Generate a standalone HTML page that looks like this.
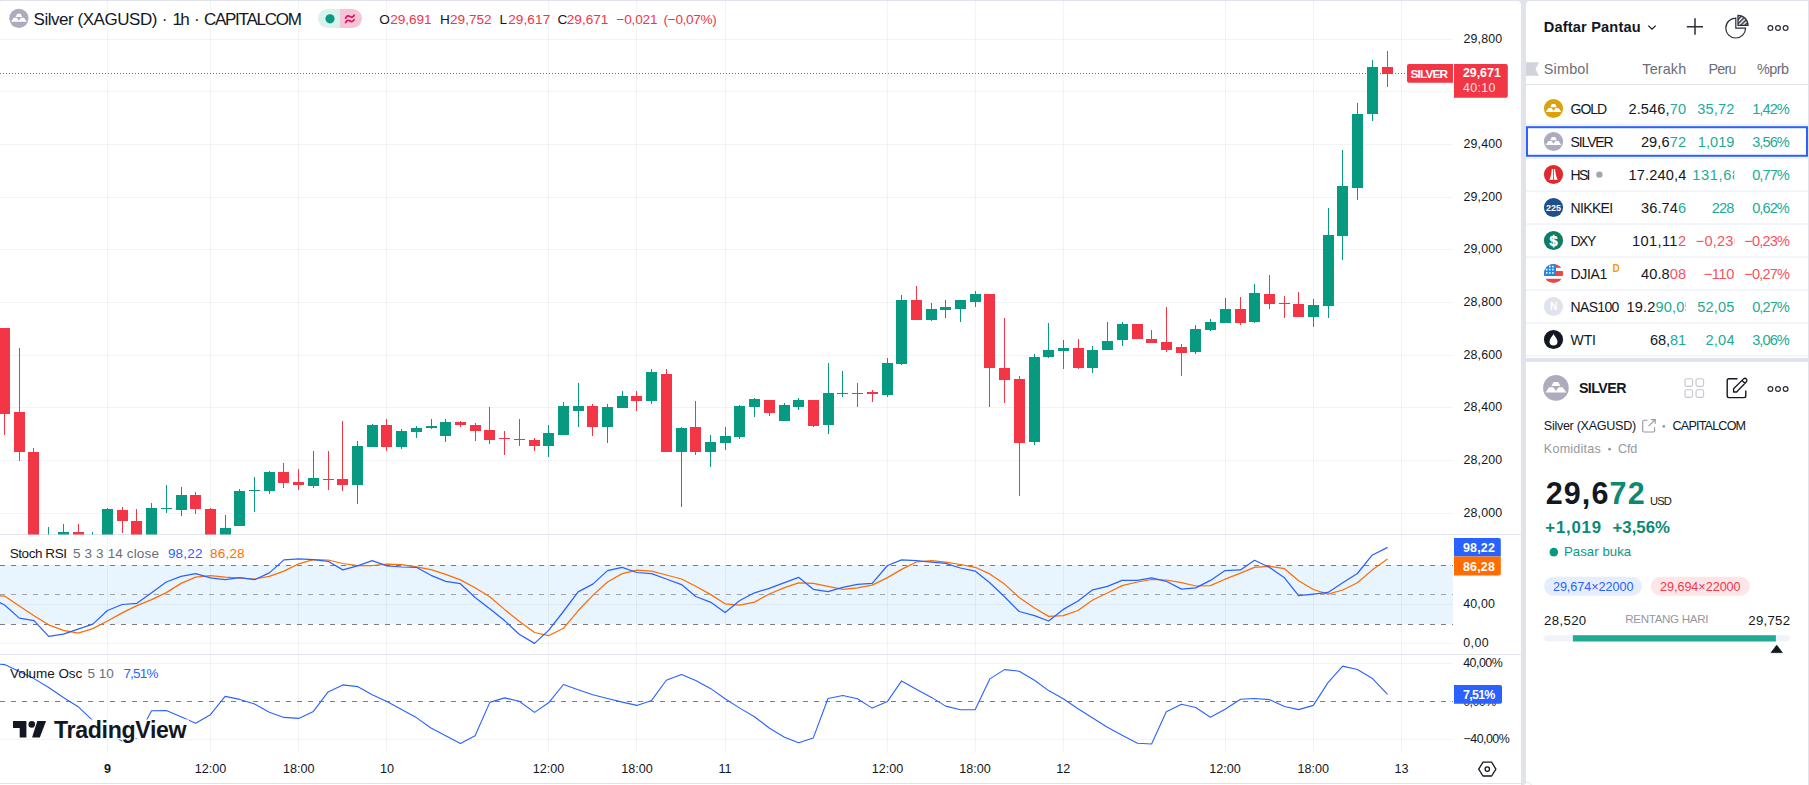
<!DOCTYPE html>
<html><head><meta charset="utf-8"><title>Silver (XAGUSD) 1h CAPITALCOM</title>
<style>html,body{margin:0;padding:0;width:1809px;height:785px;overflow:hidden;background:#e0e3eb}
svg text{font-family:'Liberation Sans',Arial,sans-serif}</style></head>
<body>
<svg width="1809" height="785" viewBox="0 0 1809 785" style="position:absolute;left:0;top:0;font-family:'Liberation Sans', Arial, sans-serif">
<defs><clipPath id="cpMain"><rect x="0" y="1" width="1453" height="533.4"/></clipPath><clipPath id="cpStoch"><rect x="0" y="535" width="1453" height="119"/></clipPath><clipPath id="cpVol"><rect x="0" y="655" width="1453" height="98"/></clipPath></defs>
<rect x="0" y="0" width="1809" height="785" fill="#e0e3eb"/>
<path d="M0 2.5 Q0 1 1.5 1 H1517 Q1521 1 1521 5 V785 H0 Z" fill="#fff"/>
<path d="M1526 5 Q1526 1 1530 1 H1808 V358 H1526 Z" fill="#fff"/>
<path d="M1526 362 H1808 V785 H1526 Z" fill="#fff"/>
<path d="M0 39.5H1453 M0 91.5H1453 M0 144.5H1453 M0 197.5H1453 M0 249.5H1453 M0 302.5H1453 M0 355.5H1453 M0 407.5H1453 M0 460.5H1453 M0 513.5H1453 M0 604.5H1453 M0 643.5H1453 M0 663.5H1453 M0 739.5H1453" stroke="rgba(42,46,57,0.06)" stroke-width="1" fill="none" shape-rendering="crispEdges"/>
<path d="M107.5 1V753 M210.5 1V753 M298.5 1V753 M386.5 1V753 M548.5 1V753 M636.5 1V753 M725.5 1V753 M887.5 1V753 M975.5 1V753 M1063.5 1V753 M1225.5 1V753 M1313.5 1V753 M1401.5 1V753" stroke="rgba(42,46,57,0.06)" stroke-width="1" fill="none" shape-rendering="crispEdges"/>
<rect x="0" y="565" width="1453" height="59" fill="rgba(33,150,243,0.1)"/>
<path d="M0 534.5H1521 M0 654.5H1521 M0 783.5H1521" stroke="#e0e3eb" stroke-width="1" shape-rendering="crispEdges"/>
<g clip-path="url(#cpMain)" shape-rendering="crispEdges">
<path d="M43 536h11v24h-11zM48 527h1v43h-1zM58 532h11v28h-11zM63 524h1v46h-1zM87 536h11v24h-11zM92 532h1v38h-1zM102 509h11v51h-11zM107 508h1v62h-1zM146 508h11v52h-11zM151 503h1v67h-1zM161 508h11v1h-11zM166 485h1v28h-1zM176 495h11v15h-11zM181 487h1v29h-1zM220 528h11v32h-11zM225 515h1v55h-1zM234 491h11v35h-11zM239 489h1v37h-1zM249 490h11v1h-11zM254 477h1v35h-1zM264 472h11v19h-11zM269 471h1v23h-1zM308 478h11v8h-11zM313 451h1v37h-1zM352 446h11v39h-11zM357 441h1v63h-1zM367 425h11v22h-11zM372 424h1v23h-1zM396 431h11v16h-11zM401 429h1v20h-1zM411 428h11v4h-11zM416 426h1v12h-1zM426 426h11v2h-11zM431 419h1v10h-1zM440 422h11v14h-11zM445 419h1v23h-1zM543 433h11v13h-11zM548 425h1v32h-1zM558 406h11v29h-11zM563 402h1v33h-1zM573 406h11v5h-11zM578 383h1v44h-1zM602 407h11v20h-11zM607 404h1v39h-1zM617 396h11v12h-11zM622 391h1v17h-1zM646 372h11v29h-11zM651 369h1v35h-1zM676 428h11v24h-11zM681 427h1v80h-1zM705 442h11v10h-11zM710 435h1v32h-1zM720 436h11v7h-11zM725 427h1v23h-1zM734 406h11v31h-11zM739 405h1v34h-1zM749 399h11v8h-11zM754 398h1v19h-1zM779 405h11v16h-11zM784 403h1v18h-1zM793 400h11v7h-11zM798 398h1v12h-1zM823 393h11v32h-11zM828 363h1v71h-1zM837 393h11v1h-11zM842 371h1v26h-1zM882 363h11v32h-11zM887 358h1v39h-1zM896 300h11v64h-11zM901 295h1v70h-1zM926 309h11v11h-11zM931 303h1v18h-1zM940 307h11v3h-11zM945 300h1v18h-1zM955 300h11v9h-11zM960 300h1v22h-1zM970 294h11v8h-11zM975 291h1v16h-1zM1029 357h11v85h-11zM1034 354h1v91h-1zM1043 350h11v7h-11zM1048 323h1v35h-1zM1058 348h11v3h-11zM1063 340h1v29h-1zM1087 350h11v18h-11zM1092 346h1v27h-1zM1102 341h11v9h-11zM1107 322h1v28h-1zM1117 324h11v16h-11zM1122 322h1v24h-1zM1190 329h11v23h-11zM1195 325h1v29h-1zM1205 322h11v8h-11zM1210 319h1v12h-1zM1220 309h11v14h-11zM1225 298h1v25h-1zM1249 293h11v29h-11zM1254 284h1v39h-1zM1308 305h11v12h-11zM1313 299h1v28h-1zM1323 235h11v71h-11zM1328 208h1v110h-1zM1337 186h11v50h-11zM1342 150h1v110h-1zM1352 114h11v74h-11zM1357 103h1v97h-1zM1367 67h11v47h-11zM1372 60h1v61h-1z" fill="#089981"/>
<path d="M-1 328h11v86h-11zM4 328h1v107h-1zM14 412h11v40h-11zM19 348h1v113h-1zM28 452h11v108h-11zM33 448h1v122h-1zM73 532h11v28h-11zM78 524h1v46h-1zM117 510h11v11h-11zM122 507h1v26h-1zM131 521h11v39h-11zM136 509h1v61h-1zM190 495h11v14h-11zM195 492h1v22h-1zM205 509h11v51h-11zM210 508h1v62h-1zM278 472h11v11h-11zM283 463h1v25h-1zM293 482h11v3h-11zM298 469h1v21h-1zM323 479h11v1h-11zM328 451h1v39h-1zM337 479h11v6h-11zM342 421h1v70h-1zM381 425h11v22h-11zM386 419h1v32h-1zM455 422h11v3h-11zM460 421h1v6h-1zM470 425h11v6h-11zM475 423h1v18h-1zM484 430h11v10h-11zM489 407h1v37h-1zM499 438h11v1h-11zM504 431h1v24h-1zM514 439h11v1h-11zM519 419h1v27h-1zM529 440h11v6h-11zM534 438h1v13h-1zM587 406h11v21h-11zM592 404h1v32h-1zM631 396h11v5h-11zM636 391h1v20h-1zM661 374h11v78h-11zM666 369h1v83h-1zM690 427h11v25h-11zM695 401h1v54h-1zM764 400h11v13h-11zM769 400h1v16h-1zM808 400h11v26h-11zM813 400h1v27h-1zM852 393h11v1h-11zM857 383h1v24h-1zM867 392h11v2h-11zM872 390h1v12h-1zM911 300h11v20h-11zM916 286h1v34h-1zM984 294h11v74h-11zM989 294h1v113h-1zM999 368h11v12h-11zM1004 318h1v85h-1zM1014 379h11v64h-11zM1019 376h1v120h-1zM1073 348h11v20h-11zM1078 339h1v30h-1zM1132 324h11v15h-11zM1137 324h1v15h-1zM1146 339h11v4h-11zM1151 330h1v13h-1zM1161 342h11v8h-11zM1166 307h1v45h-1zM1176 347h11v6h-11zM1181 344h1v32h-1zM1235 309h11v14h-11zM1240 297h1v28h-1zM1264 294h11v10h-11zM1269 275h1v34h-1zM1279 303h11v1h-11zM1284 296h1v22h-1zM1293 304h11v13h-11zM1298 292h1v25h-1zM1382 67h11v7h-11zM1387 51h1v36h-1z" fill="#f23645"/>
</g>
<path d="M0 73.5H1453" stroke="#f23645" stroke-width="1" stroke-dasharray="1 2" shape-rendering="crispEdges"/>
<path d="M0 565.5H1453 M0 624.5H1453" stroke="#787b86" stroke-width="1" stroke-dasharray="5 6" shape-rendering="crispEdges"/>
<path d="M0 594.5H1453" stroke="#a0a3ac" stroke-width="1" stroke-dasharray="5 6" shape-rendering="crispEdges"/>
<polyline clip-path="url(#cpStoch)" points="-10.1,595.5 4.6,596.1 19.3,605.9 34.0,615.7 48.7,624.8 63.4,630.4 78.1,633.2 92.8,628.6 107.5,621.0 122.2,612.9 136.9,605.6 151.6,599.6 166.3,592.6 181.0,583.4 195.7,577.1 210.4,575.7 225.1,577.1 239.8,578.1 254.6,579.0 269.3,576.4 284.0,571.1 298.7,563.8 313.4,559.6 328.1,560.0 342.8,563.5 357.5,565.6 372.2,565.5 386.9,564.1 401.6,564.7 416.3,566.8 431.0,569.7 445.7,574.3 460.4,579.9 475.1,587.7 489.8,596.8 504.5,609.4 519.2,621.3 534.5,632.5 548.6,635.7 563.4,628.3 578.1,610.8 592.8,595.4 607.5,582.0 622.2,573.6 636.9,570.1 651.6,571.1 666.3,575.0 681.5,579.0 695.7,586.3 710.4,594.4 725.1,603.8 739.8,605.2 754.5,602.1 769.2,594.0 784.5,587.7 798.6,582.9 813.3,583.4 828.0,586.3 842.8,589.3 857.5,587.9 872.2,585.1 887.5,577.6 901.6,569.4 916.3,562.0 931.5,560.7 945.7,562.1 960.4,564.5 975.1,567.3 989.8,573.9 1004.5,584.1 1019.2,597.5 1034.5,608.0 1048.6,616.4 1063.3,615.7 1078.0,610.5 1092.7,600.0 1107.4,593.0 1122.1,585.6 1137.5,582.0 1151.6,579.5 1166.3,580.0 1181.5,582.7 1195.7,586.0 1210.4,585.6 1225.1,579.2 1240.5,573.2 1254.5,567.3 1269.2,566.3 1284.5,568.7 1298.6,580.8 1313.3,589.5 1328.0,594.1 1342.7,590.0 1357.4,582.8 1372.1,570.1 1387.5,559.0" fill="none" stroke="#ff6d00" stroke-width="1.25" stroke-linejoin="round"/>
<polyline clip-path="url(#cpStoch)" points="-10.1,598.0 4.6,605.0 19.3,618.1 34.0,620.6 48.7,636.4 63.4,634.2 78.1,629.1 92.8,624.1 107.5,610.5 122.2,604.5 136.9,603.3 151.6,592.8 166.3,582.0 181.0,576.4 195.7,573.6 210.4,577.8 225.1,579.7 239.8,577.6 254.6,579.7 269.3,572.9 284.0,559.9 298.7,558.9 313.4,559.6 328.1,561.3 342.8,569.9 357.5,565.9 372.2,560.7 386.9,565.9 401.6,567.0 416.3,567.3 431.0,575.3 445.7,581.3 460.4,583.7 475.1,597.5 489.8,608.7 504.5,620.6 519.2,634.2 534.5,643.4 548.6,630.4 563.4,611.5 578.1,591.9 592.8,584.1 607.5,570.6 622.2,567.3 636.9,572.5 651.6,573.6 666.3,579.0 681.5,584.6 695.7,596.5 710.4,602.1 725.1,612.5 739.8,600.5 754.5,592.8 769.2,588.4 784.5,582.7 798.6,577.3 813.3,589.3 828.0,591.6 842.8,587.4 857.5,584.3 872.2,583.4 887.5,565.5 901.6,559.9 916.3,560.7 931.5,562.1 945.7,563.4 960.4,568.0 975.1,571.1 989.8,582.7 1004.5,596.8 1019.2,611.5 1034.5,615.7 1048.6,621.0 1063.3,609.4 1078.0,601.0 1092.7,589.8 1107.4,586.3 1122.1,580.4 1137.5,580.4 1151.6,577.8 1166.3,581.3 1181.5,589.1 1195.7,587.9 1210.4,580.4 1225.1,570.6 1240.5,569.9 1254.5,560.3 1269.2,567.3 1284.5,577.8 1298.6,595.7 1313.3,594.1 1328.0,592.4 1342.7,582.8 1357.4,573.5 1372.1,555.2 1387.5,547.4" fill="none" stroke="#2962ff" stroke-width="1.25" stroke-linejoin="round"/>
<path d="M0 701.5H1453" stroke="#787b86" stroke-width="1" stroke-dasharray="5 6" shape-rendering="crispEdges"/>
<polyline clip-path="url(#cpVol)" points="-10.1,663.5 4.6,664.6 19.3,671.6 34.0,678.6 48.7,687.5 63.4,697.5 78.1,706.7 92.8,720.7 107.5,733.0 122.2,741.0 136.9,738.0 151.6,710.7 166.3,710.5 181.0,716.7 195.7,723.3 210.4,714.7 225.1,696.4 239.8,699.4 254.6,704.1 269.3,712.3 284.0,717.4 298.7,718.4 313.4,711.4 328.1,691.9 342.8,684.9 357.5,686.6 372.2,694.8 386.9,701.4 401.6,709.4 416.3,717.6 431.0,728.0 445.7,735.7 460.4,743.6 475.1,735.7 489.8,702.4 504.5,697.9 519.2,701.2 534.5,712.4 548.6,702.8 563.4,684.5 578.1,689.8 592.8,694.8 607.5,698.5 622.2,702.1 636.9,705.4 651.6,700.4 666.3,680.2 681.5,674.6 695.7,680.6 710.4,688.4 725.1,698.8 739.8,708.1 754.5,716.7 769.2,728.0 784.5,737.3 798.6,742.8 813.3,737.9 828.0,698.5 842.8,695.5 857.5,698.8 872.2,708.1 887.5,701.4 901.6,680.9 916.3,689.2 931.5,697.4 945.7,706.1 960.4,709.8 975.1,709.8 989.8,678.9 1004.5,669.6 1019.2,671.2 1034.5,680.2 1048.6,690.6 1063.3,698.8 1078.0,708.7 1092.7,718.0 1107.4,727.3 1122.1,735.3 1137.5,743.2 1151.6,744.0 1166.3,711.7 1181.5,704.3 1195.7,707.5 1210.4,717.2 1225.1,709.3 1240.5,699.2 1254.5,698.5 1269.2,699.6 1284.5,706.5 1298.6,709.6 1313.3,705.4 1328.0,682.6 1342.7,666.1 1357.4,669.5 1372.1,678.2 1387.5,694.4" fill="none" stroke="#2962ff" stroke-width="1.1" stroke-linejoin="round"/>
<g transform="translate(18.9,18.35) scale(1.0105263157894737)"><circle r="9.5" fill="#aeabbe"/><path d="M-1.7 -4.45 H1.7 L3.3 -1.35 H-3.3 Z M-5 -0.55 H-2 L0 2.3 L2 -0.55 H5 L7.8 3.45 H-7.8 Z" fill="#fff"/></g>
<text x="33.6" y="24.6" font-size="17" fill="#131722" textLength="123.8" lengthAdjust="spacing">Silver (XAGUSD)</text>
<text x="164.7" y="24.6" font-size="17" fill="#131722" text-anchor="middle">·</text>
<text x="172.5" y="24.6" font-size="17" fill="#131722" textLength="17.2" lengthAdjust="spacing">1h</text>
<text x="196.8" y="24.6" font-size="17" fill="#131722" text-anchor="middle">·</text>
<text x="203.9" y="24.6" font-size="17" fill="#131722" textLength="97.9" lengthAdjust="spacing">CAPITALCOM</text>
<path d="M327.5 9 H340 V28 H327.5 A9.5 9.5 0 0 1 327.5 9 Z" fill="#daf1ec"/>
<path d="M340 9 H352.5 A9.5 9.5 0 0 1 352.5 28 H340 Z" fill="#f5c4d6"/>
<circle cx="330" cy="18.8" r="4.6" fill="#089981"/>
<path d="M345.6 18.2 C347 15.2 348.8 15.6 350 16.6 C351.2 17.6 352.8 17.4 354.2 15.2 M345.6 22.6 C347 19.6 348.8 20 350 21 C351.2 22 352.8 21.8 354.2 19.6" fill="none" stroke="#e0115f" stroke-width="1.7" stroke-linecap="round"/>
<text x="379.3" y="23.9" font-size="13.6" fill="#131722" textLength="8.6" lengthAdjust="spacing">O</text>
<text x="390.3" y="23.9" font-size="13.6" fill="#f23645" textLength="41.2" lengthAdjust="spacing">29,691</text>
<text x="439.9" y="23.9" font-size="13.6" fill="#131722" textLength="9" lengthAdjust="spacing">H</text>
<text x="450" y="23.9" font-size="13.6" fill="#f23645" textLength="41.6" lengthAdjust="spacing">29,752</text>
<text x="499.4" y="23.9" font-size="13.6" fill="#131722" textLength="7.5" lengthAdjust="spacing">L</text>
<text x="508.2" y="23.9" font-size="13.6" fill="#f23645" textLength="42" lengthAdjust="spacing">29,617</text>
<text x="557.5" y="23.9" font-size="13.6" fill="#131722" textLength="8.3" lengthAdjust="spacing">C</text>
<text x="566.8" y="23.9" font-size="13.6" fill="#f23645" textLength="41.6" lengthAdjust="spacing">29,671</text>
<text x="616.5" y="23.9" font-size="13.6" fill="#f23645" textLength="41" lengthAdjust="spacing">−0,021</text>
<text x="663.6" y="23.9" font-size="13.6" fill="#f23645" textLength="53.1" lengthAdjust="spacing">(−0,07%)</text>
<text x="9.7" y="558" font-size="13.5" fill="#131722" textLength="57.3" lengthAdjust="spacing">Stoch RSI</text>
<text x="73" y="558" font-size="13.5" fill="#6a6d78" textLength="85.9" lengthAdjust="spacing">5 3 3 14 close</text>
<text x="167.9" y="558" font-size="13.5" fill="#2962ff" textLength="34.6" lengthAdjust="spacing">98,22</text>
<text x="210" y="558" font-size="13.5" fill="#ff6d00" textLength="34.6" lengthAdjust="spacing">86,28</text>
<text x="10" y="677.8" font-size="13.5" fill="#131722" textLength="72.3" lengthAdjust="spacing">Volume Osc</text>
<text x="87.6" y="677.8" font-size="13.5" fill="#6a6d78" textLength="26.2" lengthAdjust="spacing">5 10</text>
<text x="123.4" y="677.8" font-size="13.5" fill="#2962ff" textLength="35.1" lengthAdjust="spacing">7,51%</text>
<text x="1463.4" y="42.8" font-size="12.4" fill="#131722" textLength="38.8" lengthAdjust="spacing">29,800</text>
<text x="1463.4" y="147.8" font-size="12.4" fill="#131722" textLength="38.8" lengthAdjust="spacing">29,400</text>
<text x="1463.4" y="200.8" font-size="12.4" fill="#131722" textLength="38.8" lengthAdjust="spacing">29,200</text>
<text x="1463.4" y="252.8" font-size="12.4" fill="#131722" textLength="38.8" lengthAdjust="spacing">29,000</text>
<text x="1463.4" y="305.8" font-size="12.4" fill="#131722" textLength="38.8" lengthAdjust="spacing">28,800</text>
<text x="1463.4" y="358.8" font-size="12.4" fill="#131722" textLength="38.8" lengthAdjust="spacing">28,600</text>
<text x="1463.4" y="410.8" font-size="12.4" fill="#131722" textLength="38.8" lengthAdjust="spacing">28,400</text>
<text x="1463.4" y="463.8" font-size="12.4" fill="#131722" textLength="38.8" lengthAdjust="spacing">28,200</text>
<text x="1463.4" y="516.8" font-size="12.4" fill="#131722" textLength="38.8" lengthAdjust="spacing">28,000</text>
<path d="M1409 64 H1453 V82.8 H1409 Q1407 82.8 1407 80.8 V66 Q1407 64 1409 64 Z" fill="#f23645"/>
<text x="1410.5" y="77.8" font-size="11.8" fill="#fff" font-weight="bold" textLength="37.5" lengthAdjust="spacing">SILVER</text>
<path d="M1454 64 H1505.8 Q1507.8 64 1507.8 66 V95.7 Q1507.8 97.7 1505.8 97.7 H1454 Z" fill="#f23645"/>
<text x="1462.9" y="76.9" font-size="12.4" fill="#fff" font-weight="bold" textLength="37.9" lengthAdjust="spacing">29,671</text>
<text x="1462.9" y="91.8" font-size="12.4" fill="#fde3e5" textLength="32.5" lengthAdjust="spacing">40:10</text>
<path d="M1454 538 H1498.8 Q1500.8 538 1500.8 540 V556.5 H1454 Z" fill="#2962ff"/>
<path d="M1454 556.5 H1500.8 V573.6 Q1500.8 575.6 1498.8 575.6 H1454 Z" fill="#ff6d00"/>
<text x="1462.9" y="551.6" font-size="12.4" fill="#fff" font-weight="bold" textLength="32" lengthAdjust="spacing">98,22</text>
<text x="1462.9" y="570.6" font-size="12.4" fill="#fff" font-weight="bold" textLength="32" lengthAdjust="spacing">86,28</text>
<text x="1463.2" y="608.2" font-size="12.4" fill="#131722" textLength="31.8" lengthAdjust="spacing">40,00</text>
<text x="1463.2" y="647.1" font-size="12.4" fill="#131722" textLength="25.4" lengthAdjust="spacing">0,00</text>
<text x="1463.2" y="667.3" font-size="12.4" fill="#131722" textLength="39.6" lengthAdjust="spacing">40,00%</text>
<text x="1463.2" y="706" font-size="12.4" fill="#131722" textLength="33" lengthAdjust="spacing">0,00%</text>
<path d="M1454 684.9 H1500 Q1502 684.9 1502 686.9 V701.7 Q1502 703.7 1500 703.7 H1454 Z" fill="#2962ff"/>
<text x="1462.9" y="698.6" font-size="12.4" fill="#fff" font-weight="bold" textLength="32.5" lengthAdjust="spacing">7,51%</text>
<text x="1463.6" y="743.4" font-size="12.4" fill="#131722" textLength="46.1" lengthAdjust="spacing">−40,00%</text>
<path d="M1483 762.2 H1491.6 L1495.9 769.1 L1491.6 776 H1483 L1478.7 769.1 Z" fill="none" stroke="#131722" stroke-width="1.3" stroke-linejoin="round"/>
<circle cx="1487.3" cy="769.1" r="2.2" fill="none" stroke="#131722" stroke-width="1.3"/>
<text x="107.5" y="773" font-size="12.6" fill="#131722" font-weight="bold" text-anchor="middle">9</text>
<text x="210.4" y="773" font-size="12.6" fill="#131722" text-anchor="middle">12:00</text>
<text x="298.7" y="773" font-size="12.6" fill="#131722" text-anchor="middle">18:00</text>
<text x="386.9" y="773" font-size="12.6" fill="#131722" text-anchor="middle">10</text>
<text x="548.6" y="773" font-size="12.6" fill="#131722" text-anchor="middle">12:00</text>
<text x="636.9" y="773" font-size="12.6" fill="#131722" text-anchor="middle">18:00</text>
<text x="725.1" y="773" font-size="12.6" fill="#131722" text-anchor="middle">11</text>
<text x="887.5" y="773" font-size="12.6" fill="#131722" text-anchor="middle">12:00</text>
<text x="975.1" y="773" font-size="12.6" fill="#131722" text-anchor="middle">18:00</text>
<text x="1063.3" y="773" font-size="12.6" fill="#131722" text-anchor="middle">12</text>
<text x="1225.1" y="773" font-size="12.6" fill="#131722" text-anchor="middle">12:00</text>
<text x="1313.3" y="773" font-size="12.6" fill="#131722" text-anchor="middle">18:00</text>
<text x="1401.5" y="773" font-size="12.6" fill="#131722" text-anchor="middle">13</text>
<rect x="11" y="719.5" width="178" height="18.5" fill="#fff"/>
<g fill="#131722" stroke="#fff" stroke-width="2" paint-order="stroke" stroke-linejoin="round"><path d="M13 721 H26.4 V737.6 H19.7 V727.9 H13 Z"/><circle cx="31.8" cy="724.4" r="3.3"/><path d="M37.3 721 H46.1 L39.8 737.6 H32.1 Z"/></g>
<text x="54" y="737.6" font-size="23.2" fill="#131722" font-weight="bold" textLength="132.6" lengthAdjust="spacing" stroke="#fff" stroke-width="2.5" paint-order="stroke" stroke-linejoin="round">TradingView</text>
<text x="1543.7" y="31.6" font-size="14.6" fill="#131722" font-weight="bold" textLength="97" lengthAdjust="spacing">Daftar Pantau</text>
<path d="M1648.3 25.6 L1652 29.2 L1655.7 25.6" fill="none" stroke="#131722" stroke-width="1.2"/>
<path d="M1686.8 26.8 H1703 M1695 18.2 V34.7" stroke="#2a2e39" stroke-width="1.5"/>
<path d="M1735.8 18.2 A9.9 9.9 0 1 0 1745.6 28.1 H1735.8 Z" fill="none" stroke="#2a2e39" stroke-width="1.2"/>
<defs><pattern id="hatch" width="3" height="3" patternUnits="userSpaceOnUse" patternTransform="rotate(45)"><rect width="1.5" height="3" fill="#2a2e39"/></pattern></defs>
<path d="M1738 15.3 A10 10 0 0 1 1748 25.3 H1738 Z" fill="url(#hatch)" stroke="#2a2e39" stroke-width="1.3"/>
<circle cx="1770.4" cy="28.1" r="2.4" fill="none" stroke="#2a2e39" stroke-width="1.2"/>
<circle cx="1778" cy="28.1" r="2.4" fill="none" stroke="#2a2e39" stroke-width="1.2"/>
<circle cx="1785.6" cy="28.1" r="2.4" fill="none" stroke="#2a2e39" stroke-width="1.2"/>
<path d="M1526 62.2 H1539 L1535.5 69 L1539 75.8 H1526 Z" fill="#d1d4dc"/>
<text x="1543.7" y="73.9" font-size="14.4" fill="#6a6d78" textLength="45.1" lengthAdjust="spacing">Simbol</text>
<text x="1642.3" y="73.9" font-size="14.4" fill="#6a6d78" textLength="43.9" lengthAdjust="spacing">Terakh</text>
<defs><clipPath id="cpPeruH"><rect x="1690" y="50" width="45.5" height="30"/></clipPath></defs>
<text x="1708.6" y="73.9" font-size="14.4" fill="#6a6d78" textLength="35" lengthAdjust="spacing" clip-path="url(#cpPeruH)">Perub</text>
<text x="1757" y="73.9" font-size="14.4" fill="#6a6d78" textLength="31.9" lengthAdjust="spacing">%prb</text>
<path d="M1526 84.5 H1808" stroke="#e0e3eb" stroke-width="1" shape-rendering="crispEdges"/>
<defs><clipPath id="cpLast"><rect x="1600" y="85" width="86" height="272"/></clipPath><clipPath id="cpChg"><rect x="1688" y="85" width="46.4" height="272"/></clipPath></defs>
<rect x="1526" y="124.3" width="282" height="1.6" fill="#f0f3fa"/>
<text x="1570.5" y="113.9" font-size="14" fill="#131722" textLength="36.7" lengthAdjust="spacing">GOLD</text>
<text x="1628.4" y="113.9" font-size="14.6" textLength="57.6" lengthAdjust="spacing" clip-path="url(#cpLast)"><tspan fill="#131722">2.546,</tspan><tspan fill="#22ab94">70</tspan></text>
<text x="1697.3" y="113.9" font-size="14.6" textLength="37.1" lengthAdjust="spacing" clip-path="url(#cpChg)"><tspan fill="#22ab94">35,72</tspan></text>
<text x="1752.2" y="113.9" font-size="14.6" fill="#22ab94" textLength="37.6" lengthAdjust="spacing">1,42%</text>
<rect x="1526" y="157.3" width="282" height="1.6" fill="#f0f3fa"/>
<text x="1570.5" y="146.9" font-size="14" fill="#131722" textLength="43.2" lengthAdjust="spacing">SILVER</text>
<text x="1640.9" y="146.9" font-size="14.6" textLength="45.1" lengthAdjust="spacing" clip-path="url(#cpLast)"><tspan fill="#131722">29,6</tspan><tspan fill="#22ab94">72</tspan></text>
<text x="1697.8" y="146.9" font-size="14.6" textLength="36.6" lengthAdjust="spacing" clip-path="url(#cpChg)"><tspan fill="#22ab94">1,019</tspan></text>
<text x="1752.2" y="146.9" font-size="14.6" fill="#22ab94" textLength="37.6" lengthAdjust="spacing">3,56%</text>
<rect x="1526" y="190.3" width="282" height="1.6" fill="#f0f3fa"/>
<text x="1570.5" y="179.9" font-size="14" fill="#131722" textLength="20" lengthAdjust="spacing">HSI</text>
<text x="1628.6" y="179.9" font-size="14.6" textLength="66" lengthAdjust="spacing" clip-path="url(#cpLast)"><tspan fill="#131722">17.240,48</tspan></text>
<text x="1692.2" y="179.9" font-size="14.6" textLength="48" lengthAdjust="spacing" clip-path="url(#cpChg)"><tspan fill="#22ab94">131,68</tspan></text>
<text x="1752.2" y="179.9" font-size="14.6" fill="#22ab94" textLength="37.6" lengthAdjust="spacing">0,77%</text>
<rect x="1526" y="223.3" width="282" height="1.6" fill="#f0f3fa"/>
<text x="1570.5" y="212.9" font-size="14" fill="#131722" textLength="42.7" lengthAdjust="spacing">NIKKEI</text>
<text x="1641" y="212.9" font-size="14.6" textLength="45" lengthAdjust="spacing" clip-path="url(#cpLast)"><tspan fill="#131722">36.74</tspan><tspan fill="#22ab94">6</tspan></text>
<text x="1711.7" y="212.9" font-size="14.6" textLength="22.7" lengthAdjust="spacing" clip-path="url(#cpChg)"><tspan fill="#22ab94">228</tspan></text>
<text x="1752.2" y="212.9" font-size="14.6" fill="#22ab94" textLength="37.6" lengthAdjust="spacing">0,62%</text>
<rect x="1526" y="256.3" width="282" height="1.6" fill="#f0f3fa"/>
<text x="1570.5" y="245.9" font-size="14" fill="#131722" textLength="25.8" lengthAdjust="spacing">DXY</text>
<text x="1632" y="245.9" font-size="14.6" textLength="54" lengthAdjust="spacing" clip-path="url(#cpLast)"><tspan fill="#131722">101,11</tspan><tspan fill="#f7525f">2</tspan></text>
<text x="1695.8" y="245.9" font-size="14.6" textLength="46" lengthAdjust="spacing" clip-path="url(#cpChg)"><tspan fill="#f7525f">−0,230</tspan></text>
<text x="1744.3" y="245.9" font-size="14.6" fill="#f7525f" textLength="45.8" lengthAdjust="spacing">−0,23%</text>
<rect x="1526" y="289.3" width="282" height="1.6" fill="#f0f3fa"/>
<text x="1570.5" y="278.9" font-size="14" fill="#131722" textLength="36.8" lengthAdjust="spacing">DJIA1</text>
<text x="1641" y="278.9" font-size="14.6" textLength="45" lengthAdjust="spacing" clip-path="url(#cpLast)"><tspan fill="#131722">40.8</tspan><tspan fill="#f7525f">08</tspan></text>
<text x="1703.7" y="278.9" font-size="14.6" textLength="30.7" lengthAdjust="spacing" clip-path="url(#cpChg)"><tspan fill="#f7525f">−110</tspan></text>
<text x="1744.3" y="278.9" font-size="14.6" fill="#f7525f" textLength="45.8" lengthAdjust="spacing">−0,27%</text>
<rect x="1526" y="322.3" width="282" height="1.6" fill="#f0f3fa"/>
<text x="1570.5" y="311.9" font-size="14" fill="#131722" textLength="48.9" lengthAdjust="spacing">NAS100</text>
<text x="1626.5" y="311.9" font-size="14.6" textLength="66" lengthAdjust="spacing" clip-path="url(#cpLast)"><tspan fill="#131722">19.2</tspan><tspan fill="#22ab94">90,05</tspan></text>
<text x="1697.3" y="311.9" font-size="14.6" textLength="37.1" lengthAdjust="spacing" clip-path="url(#cpChg)"><tspan fill="#22ab94">52,05</tspan></text>
<text x="1752.2" y="311.9" font-size="14.6" fill="#22ab94" textLength="37.6" lengthAdjust="spacing">0,27%</text>
<text x="1570.5" y="344.9" font-size="14" fill="#131722" textLength="25.5" lengthAdjust="spacing">WTI</text>
<text x="1650" y="344.9" font-size="14.6" textLength="36" lengthAdjust="spacing" clip-path="url(#cpLast)"><tspan fill="#131722">68,</tspan><tspan fill="#22ab94">81</tspan></text>
<text x="1705.5" y="344.9" font-size="14.6" textLength="29" lengthAdjust="spacing" clip-path="url(#cpChg)"><tspan fill="#22ab94">2,04</tspan></text>
<text x="1752.2" y="344.9" font-size="14.6" fill="#22ab94" textLength="37.6" lengthAdjust="spacing">3,06%</text>
<rect x="1526" y="355" width="282" height="1.5" fill="#f0f3fa"/>
<g transform="translate(1553.5,108.5)"><circle r="9.6" fill="#dca10b"/><path d="M-1.7 -4.45 H1.7 L3.3 -1.35 H-3.3 Z M-5 -0.55 H-2 L0 2.3 L2 -0.55 H5 L7.8 3.45 H-7.8 Z" fill="#fff"/></g>
<g transform="translate(1553.5,141.5)"><circle r="9.6" fill="#aeabbe"/><path d="M-1.7 -4.45 H1.7 L3.3 -1.35 H-3.3 Z M-5 -0.55 H-2 L0 2.3 L2 -0.55 H5 L7.8 3.45 H-7.8 Z" fill="#fff"/></g>
<g transform="translate(1553.5,174.5)"><circle r="9.6" fill="#e0282d"/><path d="M-1.7 -5.5 H-0.5 V5.2 H-4.2 Q-2.2 2 -1.7 -5.5 Z M0.3 -5.5 H1.6 Q2.2 2 4.2 5.2 H0.3 Z" fill="#fff"/></g>
<g transform="translate(1553.5,207.5)"><circle r="9.6" fill="#1e4f8c"/><text x="0" y="3" font-size="8.6" font-weight="bold" fill="#fff" text-anchor="middle" textLength="15" lengthAdjust="spacingAndGlyphs">225</text></g>
<g transform="translate(1553.5,240.5)"><circle r="9.6" fill="#0f7c64"/><text x="0" y="5" font-size="14.5" font-weight="bold" fill="#fff" stroke="#fff" stroke-width="0.5" text-anchor="middle">$</text></g>
<defs><clipPath id="cpFlag"><circle cx="0" cy="0" r="9.6"/></clipPath></defs>
<g transform="translate(1553.5,273.5)"><g clip-path="url(#cpFlag)"><rect x="-10" y="-10" width="20" height="20" fill="#fff"/><rect x="-10" y="-10" width="20" height="4.35" fill="#ee4444"/><rect x="-10" y="-2.5" width="20" height="5" fill="#ee4444"/><rect x="-10" y="5.3" width="20" height="5" fill="#ee4444"/><rect x="-10" y="-10" width="12.5" height="12.5" fill="#1e88e5"/></g><g fill="#fff"><rect x="-4.5" y="-7.7" width="1.6" height="1.6"/><rect x="-1.4" y="-7.7" width="1.6" height="1.6"/><rect x="-7.6" y="-4.7" width="1.6" height="1.6"/><rect x="-4.5" y="-4.7" width="1.6" height="1.6"/><rect x="-1.4" y="-4.7" width="1.6" height="1.6"/><rect x="-7.6" y="-1.4" width="1.6" height="1.6"/><rect x="-4.5" y="-1.4" width="1.6" height="1.6"/><rect x="-1.4" y="-1.4" width="1.6" height="1.6"/></g></g>
<text x="1612.5" y="272" font-size="10" fill="#ff9800" font-weight="bold">D</text>
<g transform="translate(1553.5,306.5)"><circle r="9.6" fill="#e0e3eb"/><text x="0" y="3.8" font-size="10" font-weight="bold" fill="#fff" text-anchor="middle">N</text></g>
<g transform="translate(1553.5,339.5)"><circle r="9.6" fill="#131722"/><path d="M0 -5.5 C1.5 -3 4 -0.5 4 2 A4 4 0 0 1 -4 2 C-4 -0.5 -1.5 -3 0 -5.5 Z" fill="#fff"/></g>
<circle cx="1599.4" cy="174.6" r="3.2" fill="#a3a6af"/>
<rect x="1527" y="127.2" width="280" height="28.6" fill="none" stroke="#2962ff" stroke-width="2"/>
<g transform="translate(1555.9,387.9) scale(1.35)"><circle r="9.5" fill="#aeabbe"/><path d="M-1.7 -4.45 H1.7 L3.3 -1.35 H-3.3 Z M-5 -0.55 H-2 L0 2.3 L2 -0.55 H5 L7.8 3.45 H-7.8 Z" fill="#fff"/></g>
<text x="1578.9" y="392.6" font-size="14.2" fill="#131722" font-weight="bold" textLength="47.5" lengthAdjust="spacing">SILVER</text>
<rect x="1685" y="378.8" width="7.6" height="7.6" rx="1.8" fill="none" stroke="#c3c6ce" stroke-width="1.1"/>
<rect x="1696" y="378.8" width="7.6" height="7.6" rx="1.8" fill="none" stroke="#c3c6ce" stroke-width="1.1"/>
<rect x="1685" y="389.8" width="7.6" height="7.6" rx="1.8" fill="none" stroke="#c3c6ce" stroke-width="1.1"/>
<rect x="1696" y="389.8" width="7.6" height="7.6" rx="1.8" fill="none" stroke="#c3c6ce" stroke-width="1.1"/>
<path d="M1737.5 378.8 H1729 Q1727.2 378.8 1727.2 380.6 V395.8 Q1727.2 397.6 1729 397.6 H1744 Q1745.8 397.6 1745.8 395.8 V390.5" fill="none" stroke="#131722" stroke-width="1.4"/>
<path d="M1733.6 392 V388.8 L1743.5 378.9 Q1745 377.6 1746.4 378.9 Q1747.7 380.3 1746.4 381.7 L1736.6 392 Z M1742 380.4 L1745 383.2" fill="none" stroke="#131722" stroke-width="1.3" stroke-linejoin="round"/>
<circle cx="1770.4" cy="389" r="2.4" fill="none" stroke="#2a2e39" stroke-width="1.2"/>
<circle cx="1778" cy="389" r="2.4" fill="none" stroke="#2a2e39" stroke-width="1.2"/>
<circle cx="1785.6" cy="389" r="2.4" fill="none" stroke="#2a2e39" stroke-width="1.2"/>
<text x="1543.8" y="429.9" font-size="12.6" fill="#131722" textLength="92.4" lengthAdjust="spacing">Silver (XAGUSD)</text>
<path d="M1647.5 420.3 H1644 Q1642.7 420.3 1642.7 421.6 V430.8 Q1642.7 432 1644 432 H1653.3 Q1654.6 432 1654.6 430.8 V427.2 M1648.6 426.2 L1655 419.8 M1651 419.6 H1655.2 V423.8" fill="none" stroke="#9598a1" stroke-width="1.1"/>
<circle cx="1663.8" cy="426.4" r="1.4" fill="#9598a1"/>
<text x="1672.6" y="429.9" font-size="12.6" fill="#131722" textLength="73.5" lengthAdjust="spacing">CAPITALCOM</text>
<text x="1543.8" y="452.6" font-size="12.6" fill="#9598a1" textLength="57" lengthAdjust="spacing">Komiditas</text>
<circle cx="1609.6" cy="449.2" r="1.4" fill="#9598a1"/>
<text x="1617.9" y="452.6" font-size="12.6" fill="#9598a1" textLength="19.4" lengthAdjust="spacing">Cfd</text>
<text x="1545.7" y="503.9" font-size="30.5" font-weight="bold" textLength="98.9" lengthAdjust="spacing"><tspan fill="#131722">29,6</tspan><tspan fill="#0b8a73">72</tspan></text>
<text x="1650" y="504.9" font-size="11.2" fill="#131722" textLength="21.8" lengthAdjust="spacing">USD</text>
<text x="1545.3" y="532.7" font-size="16.8" fill="#0b8a73" font-weight="bold" textLength="55.7" lengthAdjust="spacing">+1,019</text>
<text x="1612.5" y="532.7" font-size="16.8" fill="#0b8a73" font-weight="bold" textLength="57.5" lengthAdjust="spacing">+3,56%</text>
<circle cx="1553.8" cy="552.1" r="4.3" fill="#089981"/>
<text x="1564" y="555.7" font-size="13.2" fill="#089981" textLength="67.2" lengthAdjust="spacing">Pasar buka</text>
<rect x="1544.1" y="576.8" width="97.7" height="19" rx="9.5" fill="#e6edfd"/>
<text x="1552.9" y="591" font-size="12.6" fill="#2962ff" textLength="80.6" lengthAdjust="spacing">29,674×22000</text>
<rect x="1650.9" y="576.8" width="98.9" height="19" rx="9.5" fill="#fde6e8"/>
<text x="1660" y="591" font-size="12.6" fill="#f23645" textLength="80.6" lengthAdjust="spacing">29,694×22000</text>
<text x="1544.1" y="624.8" font-size="13.2" fill="#131722" textLength="42.1" lengthAdjust="spacing">28,520</text>
<text x="1625.2" y="623" font-size="11.6" fill="#9598a1" textLength="83.3" lengthAdjust="spacing">RENTANG HARI</text>
<text x="1748.3" y="624.8" font-size="13.2" fill="#131722" textLength="41.7" lengthAdjust="spacing">29,752</text>
<rect x="1544.1" y="635.2" width="245.9" height="6.3" rx="3.15" fill="#f0f3fa"/>
<rect x="1572.9" y="635.2" width="203" height="6.3" fill="#22ab94"/>
<path d="M1776.7 645.2 L1782.3 652.6 H1771.1 Z" fill="#131722" stroke="#131722" stroke-width="0.8" stroke-linejoin="round"/>
<circle cx="1527.5" cy="787" r="4.5" fill="#fff" stroke="#e0e3eb" stroke-width="1"/>
</svg>
</body></html>
